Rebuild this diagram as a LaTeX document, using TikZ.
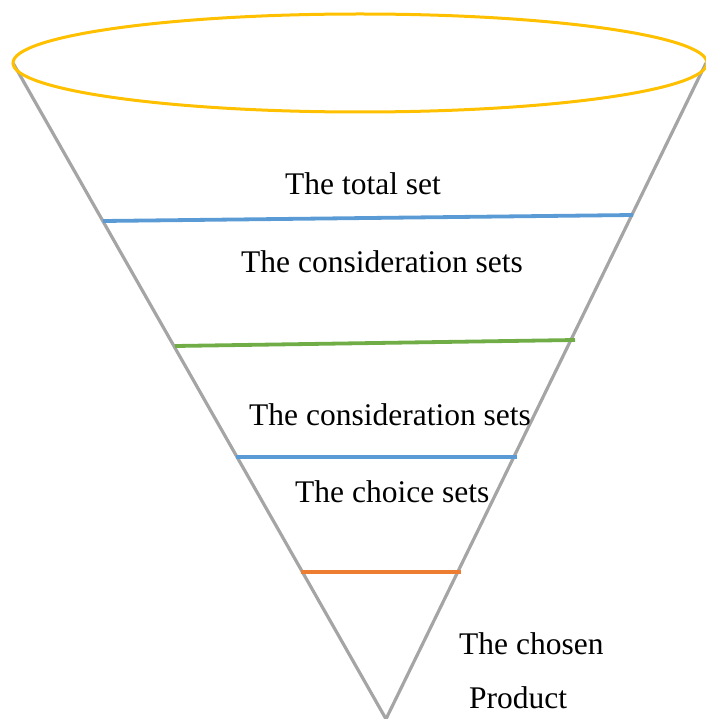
\documentclass[tikz,border=0pt]{standalone}
\usepackage{fontspec}
\setmainfont{Liberation Serif}
\usepackage{xcolor}
\definecolor{funnelgold}{RGB}{255, 192, 0}
\definecolor{funnelgrey}{RGB}{165, 165, 165}
\definecolor{stageblue}{RGB}{91, 155, 213}
\definecolor{stagegreen}{RGB}{112, 173, 71}
\definecolor{stageorange}{RGB}{237, 125, 49}
\usepackage{tikz}
\usetikzlibrary{positioning}
\tikzset{
    rimline/.style={
        draw=funnelgold,
        line width=3pt
    },
    coneline/.style={
        draw=funnelgrey,
        line width=3.2pt
    },
    stageline/.style={
        line width=3.8pt
    },
    stagelabel/.style={
        anchor=base west,
        inner sep=0pt,
        font=\rmfamily\fontsize{31.5}{38}\selectfont
    }
}

\begin{document}
\begin{tikzpicture}[x=1pt, y=-1pt]

\useasboundingbox (0,0) rectangle (705,719);

% ---------------------------------------------------------
% Funnel
% ---------------------------------------------------------

\coordinate (rimleft) at (13,63);
\coordinate (rimright) at (706,63);
\coordinate (tip) at (386,719);

% Cone sides
\draw[coneline] (rimleft) -- (tip) -- (rimright);

% Rim
\draw[rimline] (360,63) ellipse [x radius=347, y radius=49];

% ---------------------------------------------------------
% Stage lines
% ---------------------------------------------------------

\draw[stageline, stageblue] (103,221) -- (633,215);
\draw[stageline, stagegreen] (175,346) -- (575,340);
\draw[stageline, stageblue] (236,457) -- (517,457);
\draw[stageline, stageorange] (301,572) -- (461,572);

% ---------------------------------------------------------
% Labels
% ---------------------------------------------------------

\node[stagelabel] (total) at (285,195) {The total set};
\node[stagelabel] (consider) at (241,272) {The consideration sets};
\node[stagelabel] (considerlow) at (249,425) {The consideration sets};
\node[stagelabel] (choice) at (295,502) {The choice sets};
\node[stagelabel] (chosen) at (459,654) {The chosen};
\node[stagelabel] (product) at (469,708) {Product};

\end{tikzpicture}
\end{document}
